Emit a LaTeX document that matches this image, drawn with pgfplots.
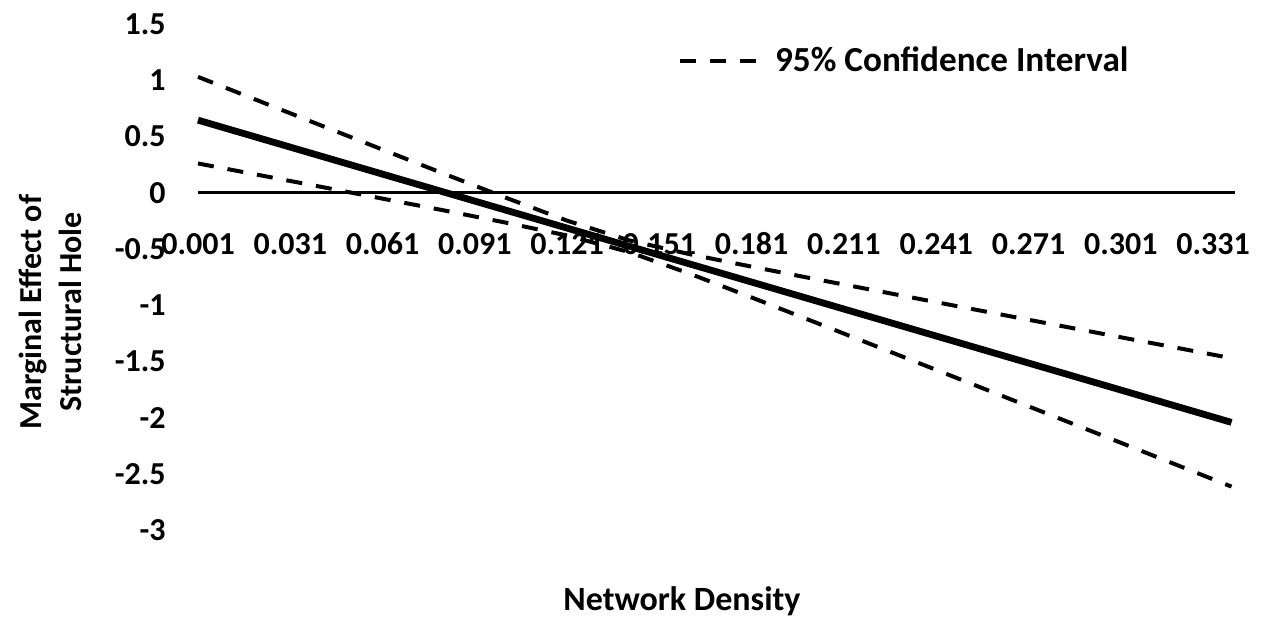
\documentclass[border=0pt]{standalone}
\usepackage{fontspec}
\setmainfont{Carlito}
\usepackage{pgfplots}
\pgfplotsset{compat=1.18}
\begin{document}
\begin{tikzpicture}
\path[use as bounding box] (-99pt,-44pt) rectangle (532.5pt,265pt);
\begin{axis}[
  at={(0,0)}, anchor=south west,
  scale only axis, width=518.3pt, height=253pt,
  xmin=0.001, xmax=0.338, ymin=-3, ymax=1.5,
  enlargelimits=false, clip=false,
  axis line style={draw=none}, tick style={draw=none},
  xtick pos=bottom, ytick pos=left,
  xtick={0.001,0.031,0.061,0.091,0.121,0.151,0.181,0.211,0.241,0.271,0.301,0.331},
  xticklabels={0.001,0.031,0.061,0.091,0.121,0.151,0.181,0.211,0.241,0.271,0.301,0.331},
  ytick={-3,-2.5,-2,-1.5,-1,-0.5,0,0.5,1,1.5},
  yticklabels={-3,-2.5,-2,-1.5,-1,-0.5,0,0.5,1,1.5},
  xticklabel style={font=\fontsize{16}{19}\selectfont\bfseries, inner sep=0pt, anchor=center, yshift=143pt},
  yticklabel style={font=\fontsize{16}{19}\selectfont\bfseries, inner sep=0pt, anchor=east, xshift=-16pt},
  legend style={at={(rel axis cs:0.4628,0.927)}, anchor=west, draw=none, fill=none,
    inner sep=0pt, font=\fontsize{17.6}{20}\selectfont\bfseries, nodes={inner sep=0pt},
    /tikz/every odd column/.append style={column sep=8.5pt}},
  legend image code/.code={\draw[#1] (0pt,0pt) -- (38pt,0pt);},
]
\addplot[black, line width=1.3pt, forget plot] coordinates {(0.001,0) (0.338,0)};
\addplot[black, line width=3.4pt, forget plot] coordinates {(0.001,0.645) (0.337,-2.043)};
\addplot[black, line width=2pt, dash pattern=on 8pt off 7pt, forget plot] coordinates {
(0.001,0.260) (0.021,0.156) (0.041,0.052) (0.061,-0.053) (0.081,-0.158) (0.101,-0.266)
(0.121,-0.381) (0.141,-0.527) (0.161,-0.722) (0.181,-0.932) (0.201,-1.146) (0.221,-1.361)
(0.241,-1.576) (0.261,-1.792) (0.281,-2.008) (0.301,-2.224) (0.321,-2.441) (0.337,-2.614)};
\addplot[black, line width=2pt, dash pattern=on 8pt off 7pt] coordinates {
(0.001,1.030) (0.021,0.814) (0.041,0.598) (0.061,0.383) (0.081,0.168) (0.101,-0.044)
(0.121,-0.249) (0.141,-0.423) (0.161,-0.548) (0.181,-0.658) (0.201,-0.765) (0.221,-0.869)
(0.241,-0.974) (0.261,-1.078) (0.281,-1.182) (0.301,-1.286) (0.321,-1.389) (0.337,-1.472)};
\addlegendentry{95\% Confidence Interval}
\end{axis}
\node[rotate=90, align=center, font=\fontsize{16}{20}\selectfont\bfseries] at (-74pt,109pt) {Marginal Effect of\\Structural Hole};
\node[font=\fontsize{17}{20}\selectfont\bfseries] at (242pt,-35.5pt) {Network Density};
\end{tikzpicture}
\end{document}
